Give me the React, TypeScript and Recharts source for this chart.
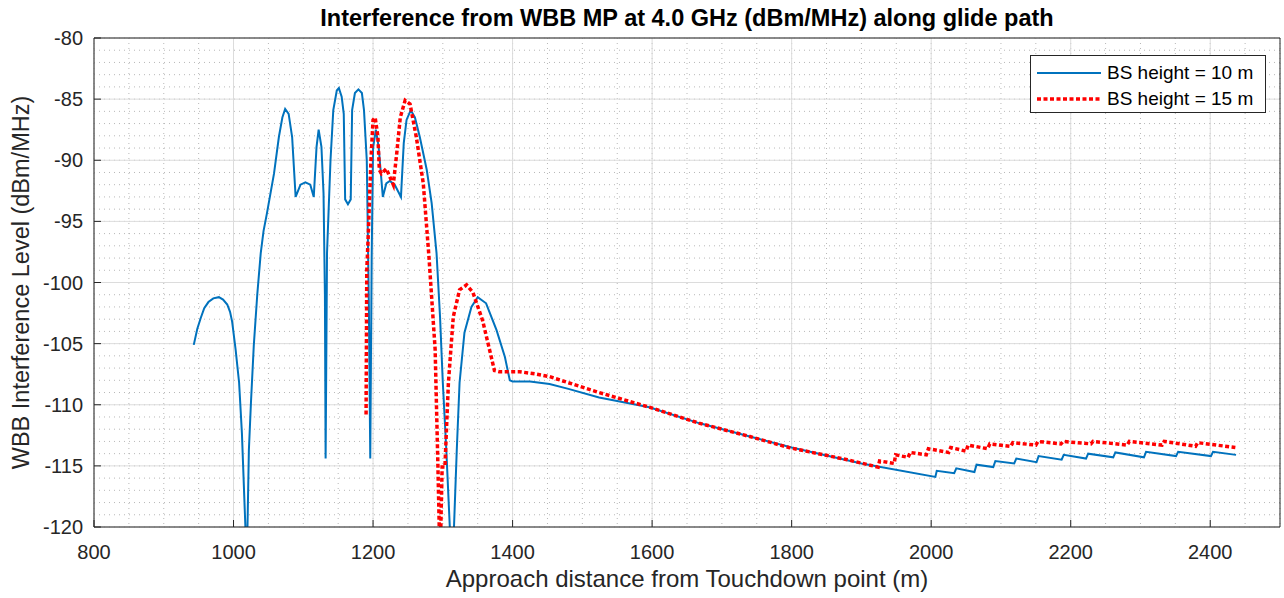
import { LineChart, Line, XAxis, YAxis, CartesianGrid } from 'recharts';

// BS height = 10 m
const blueX = [
  943, 948, 953, 958, 964, 971, 979, 985, 991, 995, 998, 1003, 1008, 1012, 1017, 1018.5, 1020, 1022,
  1025, 1029, 1034, 1039, 1043, 1048, 1058, 1065, 1070, 1074, 1079, 1084, 1089, 1096, 1103, 1110,
  1115, 1119, 1122, 1126, 1129, 1131, 1132, 1134, 1139, 1143, 1148, 1151, 1155, 1158, 1160, 1164,
  1168, 1170, 1174, 1179, 1184, 1187, 1191, 1194, 1196, 1198, 1200, 1204, 1208, 1214, 1219, 1224,
  1231, 1240, 1244, 1248, 1254, 1260, 1267, 1277, 1284, 1291, 1296, 1300, 1305, 1310, 1313, 1316,
  1320, 1324, 1331, 1341, 1350, 1362, 1377, 1389, 1396, 1400, 1425, 1453, 1480, 1524, 1596, 1667,
  1740, 1800, 1900, 2006,
  2008, 2033, 2036, 2062, 2065, 2089, 2092, 2119, 2122, 2151, 2154, 2187, 2190, 2222, 2225,
  2261, 2264, 2305, 2308, 2351, 2354, 2401, 2404, 2437,
];
const blueY = [
  -105.1, -103.8, -102.9, -102.1, -101.6, -101.3, -101.2, -101.4, -101.8, -102.4, -103.2, -105.5, -108.2, -112.3, -120, -124, -120, -113.7,
  -109.8, -105.2, -101.0, -97.6, -95.8, -94.3, -91.1, -88.1, -86.5, -85.8, -86.2, -88.1, -93.0, -92.0, -91.8, -92.0,
  -93.0, -88.9, -87.5, -88.9, -92.7, -101, -114.4, -97.6, -90, -85.9, -84.3, -84.1, -84.8, -86.2, -93.2, -93.6,
  -93.2, -85.9, -84.5, -84.2, -84.5, -85.9, -90, -102, -114.4, -98, -89, -87.5, -88.9, -93.0, -91.9, -91.7,
  -92.0, -93.0, -88.6, -86.7, -85.9, -86.5, -88.1, -90.8, -93.5, -97.6, -102.8, -108.2, -113.7, -120, -125, -120,
  -113.7, -108.2, -104.1, -102.0, -101.2, -101.7, -103.9, -106.1, -108.0, -108.1, -108.1, -108.3, -108.7, -109.4, -110.2, -111.5,
  -112.6, -113.5, -114.8, -115.9,
  -115.4, -115.6, -115.2, -115.5, -114.9, -115.1, -114.6, -114.8, -114.4, -114.7, -114.2, -114.5, -114.1, -114.4, -114.0,
  -114.3, -113.9, -114.3, -113.85, -114.2, -113.85, -114.2, -113.85, -114.1,
];

// BS height = 15 m
const redX = [
  1190, 1191, 1193, 1197, 1200, 1203, 1207, 1209, 1212, 1219, 1229, 1234, 1239, 1246, 1253, 1262,
  1272, 1280, 1289, 1293, 1296, 1299, 1303, 1308, 1315, 1324, 1334, 1343, 1357, 1374, 1381, 1410,
  1435, 1453, 1480, 1524, 1596, 1667, 1740, 1796, 1880, 1924,
  1926, 1947, 1949, 1967, 1970, 1993, 1996, 2025, 2028, 2050, 2053, 2081, 2084, 2114, 2117,
  2150, 2153, 2186, 2189, 2229, 2232, 2281, 2284, 2331, 2334, 2379, 2382, 2436,
];
const redY = [
  -110.8, -99, -96.3, -90, -86.7, -86.5, -88.1, -90.8, -91.1, -90.7, -92.0, -89.4, -86.5, -85.1, -85.4, -88.1,
  -91.9, -97.8, -105.5, -115.1, -123, -115.1, -115.1, -108.2, -102.8, -100.6, -100.2, -100.8, -103.1, -107.2, -107.3, -107.3,
  -107.5, -107.7, -108.2, -109.0, -110.2, -111.5, -112.6, -113.5, -114.5, -115.1,
  -114.6, -114.8, -114.1, -114.3, -113.9, -114.1, -113.6, -113.9, -113.5, -113.8, -113.3, -113.6, -113.2, -113.4, -113.1,
  -113.3, -113.0, -113.2, -113.0, -113.2, -113.0, -113.3, -113.0, -113.3, -113.0, -113.4, -113.1, -113.5,
];

const xTicks = [800, 1000, 1200, 1400, 1600, 1800, 2000, 2200, 2400];
const yTicks = [-120, -115, -110, -105, -100, -95, -90, -85, -80];
const xMinor = Array.from({ length: 35 }, (_, i) => 800 + i * 50);
const yMinor = Array.from({ length: 41 }, (_, i) => -120 + i);

const blueData = blueX.map((x, i) => ({ x, y: blueY[i] }));
const redData = redX.map((x, i) => ({ x, y: redY[i] }));

const series = [
  { name: 'BS height = 10 m', color: '#0072BD', dash: undefined, width: 2 },
  { name: 'BS height = 15 m', color: '#FF0000', dash: '4 2.5', width: 3.5 },
];

const FONT = '"Liberation Sans", Arial, Helvetica, sans-serif';
const AXIS = '#262626';

const TitleLabel = ({ viewBox }: any) => (
  <text x={viewBox.x + viewBox.width / 2} y={viewBox.y - 11} textAnchor="middle"
    fontFamily={FONT} fontSize={23.5} fontWeight="bold" fill="#000">
    Interference from WBB MP at 4.0 GHz (dBm/MHz) along glide path
  </text>
);

const XLabel = ({ viewBox }: any) => (
  <text x={viewBox.x + viewBox.width / 2} y={viewBox.y + 60} textAnchor="middle"
    fontFamily={FONT} fontSize={24} fill={AXIS}>
    Approach distance from Touchdown point (m)
  </text>
);

const YLabel = ({ viewBox }: any) => {
  const cx = viewBox.x + 29;
  const cy = viewBox.y + viewBox.height / 2;
  return (
    <text x={cx} y={cy} textAnchor="middle" transform={`rotate(-90, ${cx}, ${cy})`}
      fontFamily={FONT} fontSize={23.5} fill={AXIS}>
      WBB Interference Level (dBm/MHz)
    </text>
  );
};

const LegendBox = () => (
  <div style={{
    position: 'absolute', left: 1030, top: 55, width: 234, height: 56,
    border: '1px solid #262626', background: '#fff',
    fontFamily: FONT, fontSize: 19, color: '#000',
  }}>
    {series.map((s, i) => (
      <div key={i} style={{ display: 'flex', alignItems: 'center', height: 25, marginTop: i === 0 ? 4 : 1 }}>
        <svg width={72} height={10} style={{ marginLeft: 6 }}>
          <line x1={0} y1={5} x2={64} y2={5} stroke={s.color} strokeWidth={s.width} strokeDasharray={s.dash} />
        </svg>
        <span style={{ marginLeft: -2 }}>{s.name}</span>
      </div>
    ))}
  </div>
);

export default function App() {
  return (
    <div style={{ position: 'absolute', left: 0, top: 0, width: 1284, height: 598, background: '#fff' }}>
      <LineChart width={1284} height={598} margin={{ top: 37, right: 3, bottom: 31, left: 0 }}>
        <CartesianGrid xAxisId="b" yAxisId="l" horizontalValues={yMinor} verticalValues={xMinor}
          stroke="#b8b8b8" strokeDasharray="1 4" />
        <CartesianGrid xAxisId="b" yAxisId="l" horizontalValues={yTicks} verticalValues={xTicks} stroke="#dcdcdc" />
        <XAxis xAxisId="b" dataKey="x" type="number" domain={[800, 2500]} ticks={xTicks} interval={0}
          allowDataOverflow height={40} tickSize={-7} tickMargin={25} stroke={AXIS}
          tick={{ fill: AXIS, fontSize: 20, fontFamily: FONT }} label={<XLabel />} />
        <XAxis xAxisId="t" orientation="top" dataKey="x" type="number" domain={[800, 2500]} ticks={xTicks}
          interval={0} height={1} tickSize={-7} tick={false} stroke={AXIS} label={<TitleLabel />} />
        <YAxis yAxisId="l" type="number" domain={[-120, -80]} ticks={yTicks} interval={0} allowDataOverflow
          width={94} tickSize={-7} tickMargin={18} stroke={AXIS}
          tick={{ fill: AXIS, fontSize: 20, fontFamily: FONT }} label={<YLabel />} />
        <YAxis yAxisId="r" orientation="right" type="number" domain={[-120, -80]} ticks={yTicks} interval={0}
          width={1} tickSize={-7} tick={false} stroke={AXIS} />
        <Line xAxisId="b" yAxisId="l" data={blueData} dataKey="y" name={series[0].name} type="linear"
          stroke={series[0].color} strokeWidth={series[0].width} dot={false} isAnimationActive={false} />
        <Line xAxisId="b" yAxisId="l" data={redData} dataKey="y" name={series[1].name} type="linear"
          stroke={series[1].color} strokeWidth={series[1].width} strokeDasharray={series[1].dash}
          dot={false} isAnimationActive={false} />
      </LineChart>
      <LegendBox />
    </div>
  );
}
